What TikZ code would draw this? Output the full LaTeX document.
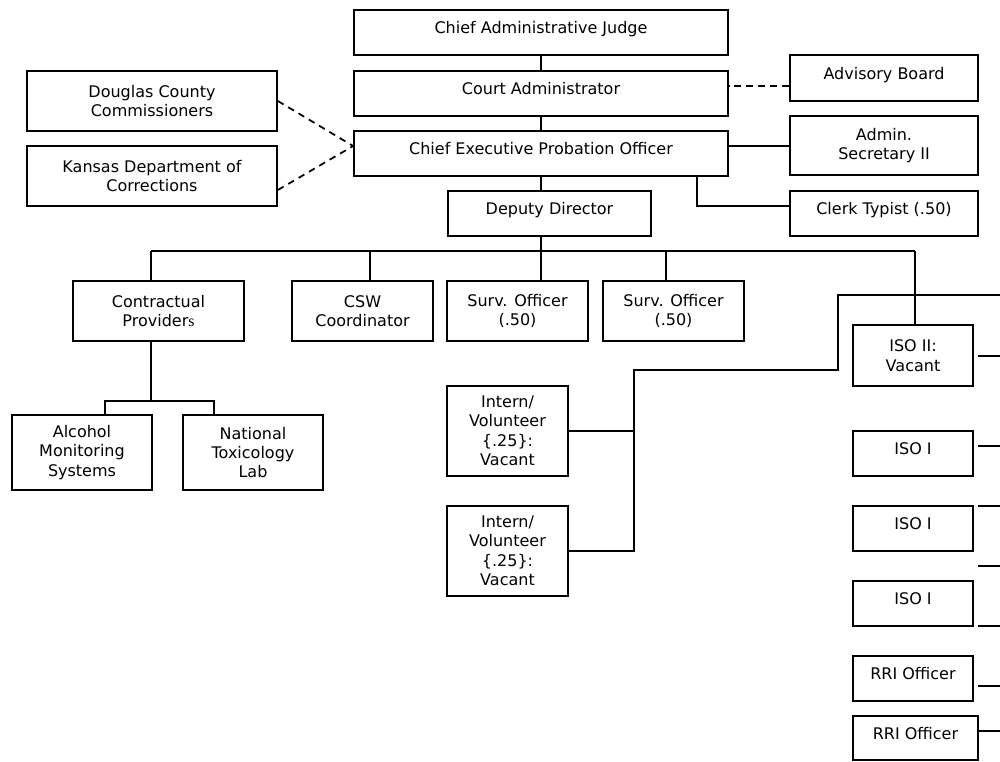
\documentclass[tikz,border=0pt]{standalone}
\usepackage{fontspec}
\setmainfont{DejaVu Sans}
\newfontfamily\serifs{Liberation Serif}
\usetikzlibrary{calc}
\begin{document}
\begin{tikzpicture}[x=0.75pt,y=-0.75pt,
  box/.style={draw, line width=1.3pt, align=center, inner sep=0pt,
    font=\fontsize{12pt}{14.6pt}\selectfont},
  one/.style={text height=8pt, text depth=6.5pt},
  conn/.style={line width=1.3pt},
  dconn/.style={line width=1.3pt, dash pattern=on 5pt off 4pt}]
\useasboundingbox (0,0) rectangle (1000,761);
% top chain
\node[box,one,minimum width=280.5pt,minimum height=33.75pt] (judge) at (541,32.5) {Chief Administrative Judge};
\node[box,one,minimum width=280.5pt,minimum height=33.75pt] (court) at (541,93.5) {Court Administrator};
\node[box,one,minimum width=280.5pt,minimum height=33.75pt] (cepo) at (541,153.5) {Chief Executive Probation Officer};
\node[box,one,minimum width=152.25pt,minimum height=33.75pt] (deputy) at (549.5,213.5) {Deputy Director};
% right staff
\node[box,one,minimum width=141pt,minimum height=34.5pt] (advisory) at (884,78) {Advisory Board};
\node[box,minimum width=141pt,minimum height=44.25pt] (admin) at (884,145.5) {Admin.\\Secretary II};
\node[box,one,minimum width=141pt,minimum height=33.75pt] (clerk) at (884,213.5) {Clerk Typist (.50)};
% left
\node[box,minimum width=187.5pt,minimum height=45pt] (douglas) at (152,101) {Douglas County\\Commissioners};
\node[box,minimum width=187.5pt,minimum height=45pt] (kansas) at (152,176) {Kansas Department of\\Corrections};
% second level
\node[box,minimum width=128.25pt,minimum height=45pt] (contract) at (158.5,311) {Contractual\\Provider{\serifs s}};
\node[box,minimum width=105.75pt,minimum height=45pt] (csw) at (362.5,311) {CSW\\Coordinator};
\node[box,minimum width=105.75pt,minimum height=45pt] (surv1) at (517.5,311) {Surv. Officer\\(.50)};
\node[box,minimum width=105.75pt,minimum height=45pt] (surv2) at (673.5,311) {Surv. Officer\\(.50)};
% providers
\node[box,minimum width=105pt,minimum height=56.25pt] (alcohol) at (82,452.5) {Alcohol\\Monitoring\\Systems};
\node[box,minimum width=105pt,minimum height=56.25pt] (national) at (253,452.5) {National\\Toxicology\\Lab};
% interns
\node[box,minimum width=90.75pt,minimum height=67.5pt] (intern1) at (507.5,431) {Intern/\\Volunteer\\\{.25\}:\\Vacant};
\node[box,minimum width=90.75pt,minimum height=67.5pt] (intern2) at (507.5,551) {Intern/\\Volunteer\\\{.25\}:\\Vacant};
% right column
\node[box,minimum width=90pt,minimum height=45.75pt] (iso2) at (913,355.5) {ISO II:\\Vacant};
\node[box,one,minimum width=90pt,minimum height=33.75pt] (isoa) at (913,453.5) {ISO I};
\node[box,one,minimum width=90pt,minimum height=33.75pt] (isob) at (913,528.5) {ISO I};
\node[box,one,minimum width=90pt,minimum height=33.75pt] (isoc) at (913,603.5) {ISO I};
\node[box,one,minimum width=90pt,minimum height=33.75pt] (rri1) at (913,678.5) {RRI Officer};
\node[box,one,minimum width=93.75pt,minimum height=33pt] (rri2) at (915.5,738) {RRI Officer};
% coordinates
\coordinate (ct) at (697,176);
\coordinate (cw) at ($(cepo.west)+(0,-7.5)$);
\coordinate (bus) at (541,251);
\coordinate (bL) at (151,251);
\coordinate (bC) at (370,251);
\coordinate (bS) at (666,251);
\coordinate (bR) at (915,251);
\coordinate (pv) at (151,401);
\coordinate (pL) at (105,401);
\coordinate (pR) at (214,401);
\coordinate (h1) at (838,295);
\coordinate (h2) at (1000,295);
\coordinate (h3) at (838,370);
\coordinate (h4) at (634,370);
\coordinate (e1) at (1000,356);
\coordinate (e2) at (1000,446);
\coordinate (e3) at (1000,506);
\coordinate (e4) at (1000,566);
\coordinate (e5) at (1000,626);
\coordinate (e6) at (1000,686);
\coordinate (e7) at (1000,731);
% top connectors
\draw[conn] (judge.south) -- (court.north);
\draw[conn] (court.south) -- (cepo.north);
\draw[conn] (cepo.south) -- (cepo.south |- deputy.north);
\draw[dconn] (advisory.west |- 0,86) -- (court.east |- 0,86);
\draw[conn] (admin.west |- 0,146) -- (cepo.east |- 0,146);
\draw[conn] (ct) |- ($(clerk.west)+(0,-7.5)$);
\draw[dconn] (douglas.east) -- (cw);
\draw[dconn] ($(kansas.east)+(0,14)$) -- (cw);
% bus
\draw[conn] (deputy.south -| bus) -- (bus);
\draw[conn] (bL) -- (bR);
\draw[conn] (bL) -- (bL |- contract.north);
\draw[conn] (bC) -- (bC |- csw.north);
\draw[conn] (bus) -- (bus |- surv1.north);
\draw[conn] (bS) -- (bS |- surv2.north);
\draw[conn] (bR) -- (bR |- iso2.north);
% providers
\draw[conn] (pv |- contract.south) -- (pv);
\draw[conn] (pL |- alcohol.north) -- (pL) -- (pR) -- (pR |- national.north);
% interns
\draw[conn] (h2) -- (h1) -- (h3) -- (h4) -- (h4 |- intern2.east) -- (intern2.east);
\draw[conn] (intern1.east) -- (intern1.east -| h4);
% right stubs
\draw[conn] ($(iso2.east |- e1)+(4,0)$) -- (e1);
\draw[conn] ($(isoa.east |- e2)+(4,0)$) -- (e2);
\draw[conn] ($(isob.east |- e3)+(4,0)$) -- (e3);
\draw[conn] ($(isob.east |- e4)+(4,0)$) -- (e4);
\draw[conn] ($(isoc.east |- e5)+(4,0)$) -- (e5);
\draw[conn] ($(rri1.east |- e6)+(4,0)$) -- (e6);
\draw[conn] (rri2.east |- e7) -- (e7);
\end{tikzpicture}
\end{document}
